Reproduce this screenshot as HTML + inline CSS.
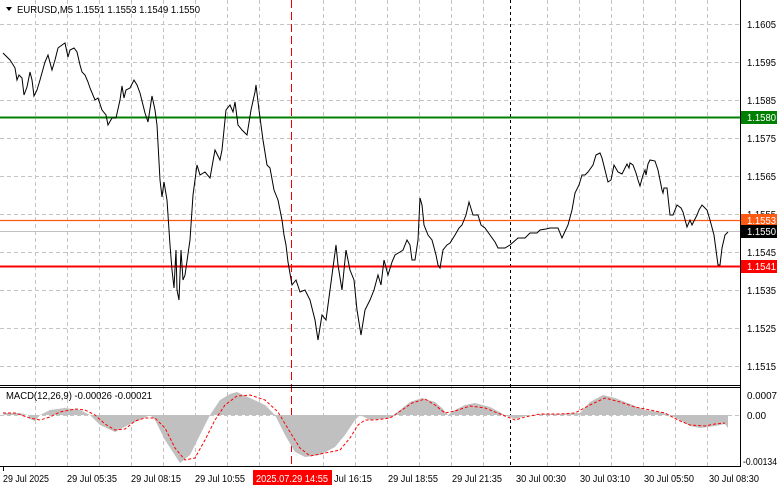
<!DOCTYPE html>
<html><head><meta charset="utf-8"><style>
body{margin:0;background:#fff;}
svg{display:block;font-family:"Liberation Sans",Tahoma,sans-serif;}
</style></head><body>
<svg width="781" height="489" viewBox="0 0 781 489" xmlns="http://www.w3.org/2000/svg">
<rect width="781" height="489" fill="#fff"/>
<g stroke="#c4c4c4" stroke-dasharray="4,3" stroke-width="1">
<line x1="0" y1="24.5" x2="740" y2="24.5"/><line x1="0" y1="62.5" x2="740" y2="62.5"/><line x1="0" y1="100.5" x2="740" y2="100.5"/><line x1="0" y1="138.5" x2="740" y2="138.5"/><line x1="0" y1="176.5" x2="740" y2="176.5"/><line x1="0" y1="214.5" x2="740" y2="214.5"/><line x1="0" y1="252.5" x2="740" y2="252.5"/><line x1="0" y1="290.5" x2="740" y2="290.5"/><line x1="0" y1="328.5" x2="740" y2="328.5"/><line x1="0" y1="366.5" x2="740" y2="366.5"/>
<line x1="0" y1="415.5" x2="740" y2="415.5"/>
<line x1="35.5" y1="0" x2="35.5" y2="466"/><line x1="67.5" y1="0" x2="67.5" y2="466"/><line x1="99.5" y1="0" x2="99.5" y2="466"/><line x1="131.5" y1="0" x2="131.5" y2="466"/><line x1="163.5" y1="0" x2="163.5" y2="466"/><line x1="195.5" y1="0" x2="195.5" y2="466"/><line x1="227.5" y1="0" x2="227.5" y2="466"/><line x1="259.5" y1="0" x2="259.5" y2="466"/><line x1="323.5" y1="0" x2="323.5" y2="466"/><line x1="355.5" y1="0" x2="355.5" y2="466"/><line x1="387.5" y1="0" x2="387.5" y2="466"/><line x1="419.5" y1="0" x2="419.5" y2="466"/><line x1="451.5" y1="0" x2="451.5" y2="466"/><line x1="483.5" y1="0" x2="483.5" y2="466"/><line x1="547.5" y1="0" x2="547.5" y2="466"/><line x1="579.5" y1="0" x2="579.5" y2="466"/><line x1="611.5" y1="0" x2="611.5" y2="466"/><line x1="643.5" y1="0" x2="643.5" y2="466"/><line x1="675.5" y1="0" x2="675.5" y2="466"/><line x1="707.5" y1="0" x2="707.5" y2="466"/>
</g>
<line x1="291.5" y1="0" x2="291.5" y2="466" stroke="#e00" stroke-dasharray="8,4"/>
<line x1="510.5" y1="0" x2="510.5" y2="466" stroke="#000" stroke-dasharray="3,3"/>
<line x1="0" y1="117.5" x2="740" y2="117.5" stroke="#008000" stroke-width="2"/>
<line x1="0" y1="220.5" x2="740" y2="220.5" stroke="#ff5a14" stroke-width="1.2"/>
<line x1="0" y1="231.5" x2="740" y2="231.5" stroke="#c0c0c0"/>
<line x1="0" y1="266.5" x2="740" y2="266.5" stroke="#ff0000" stroke-width="2"/>
<polyline fill="none" stroke="#000" stroke-width="1" points="3,53 10,60 12,63 15,68 17,80 19,75 22,78 24,95 27,87 30,72 32,80 34,96 37,90 40,80 45,62 48,55 52,70 55,60 58,48 62,45 65,43 68,57 70,50 74,48 77,52 80,65 82,72 85,75 88,82 90,88 95,100 98,98 102,110 106,115 108,125 112,118 116,118 120,100 122,86 124,98 126,90 130,88 134,80 137,85 140,93 145,113 148,122 152,96 155,110 157,125 160,180 162,197 164,182 167,200 170,245 172,270 174,288 176,250 177,290 179,300 181,250 183,280 185,275 190,240 193,195 197,165 200,175 205,172 210,178 215,150 220,160 222,150 226,110 230,105 233,112 235,102 238,125 242,130 247,135 251,110 255,92 256,85 259,110 263,140 267,165 270,168 274,190 278,200 282,220 284,235 286,245 288,262 292,285 296,280 300,292 305,290 310,300 315,320 318,340 322,315 326,320 330,290 334,260 336,245 338,265 342,290 346,250 350,270 354,280 357,310 361,335 365,310 370,300 374,290 378,275 381,285 384,260 388,275 392,262 395,255 400,252 403,250 407,240 410,245 412,260 415,260 418,240 420,198 422,205 424,225 428,235 432,240 436,255 438,265 440,268 443,250 447,245 450,243 455,235 459,228 462,225 466,215 469,202 473,215 478,215 481,225 485,228 490,235 495,242 498,248 505,248 510,245 518,238 525,238 530,233 537,233 540,230 546,229 550,228 558,228 562,238 568,225 572,210 575,193 579,185 582,175 585,175 588,172 593,165 596,155 600,153 602,158 605,170 608,182 611,180 614,165 618,172 622,174 625,168 627,164 629,168 630,163 633,165 636,173 638,180 640,186 643,175 645,170 646,175 648,164 650,160 655,161 658,170 660,180 662,190 663,193 664,188 667,188 670,215 673,215 677,205 681,208 683,212 687,227 690,220 692,225 697,215 699,210 702,205 707,210 710,220 714,235 716,250 718,265 720,265 722,248 725,235 728,232"/>
<polygon fill="#c0c0c0" points="3,415 5,413 20,413 28,415 30,419 35,421 40,415 50,410 65,408 80,410 90,415 100,425 115,432 130,424 140,420 150,415 155,420 165,440 180,463 190,455 200,435 210,415 220,400 230,394 237,392 250,398 265,405 275,415 285,435 295,452 305,457 320,455 335,447 345,435 355,420 360,415 370,420 390,418 400,410 410,402 422,398 435,402 442,408 448,415 455,410 465,405 475,403 490,407 505,415 515,419 525,416 540,414 555,414 580,413 590,402 603,395 615,398 630,404 645,410 660,412 670,415 680,420 690,426 700,428 715,426 725,424 728,428 728,415"/>
<polyline fill="none" stroke="#ff0000" stroke-width="1" stroke-dasharray="3,2" points="3,413 15,413 30,418 40,420 50,417 60,412 75,409 85,410 95,415 105,424 115,430 125,429 135,421 145,418 155,418 165,428 175,448 185,460 195,458 205,440 215,420 225,405 237,396 250,395 265,400 278,412 290,432 300,448 310,456 325,453 340,450 350,438 358,425 365,420 375,420 390,418 402,410 412,403 425,399 435,405 445,413 455,411 470,406 485,408 500,414 515,420 525,417 540,414 560,414 575,413 590,405 605,398 620,402 635,407 650,410 665,413 678,420 690,425 705,426 715,424 725,423"/>
<line x1="0" y1="385.5" x2="741" y2="385.5" stroke="#000"/>
<line x1="0" y1="387.5" x2="741" y2="387.5" stroke="#000"/>
<line x1="740.5" y1="0" x2="740.5" y2="467" stroke="#000"/>
<line x1="0" y1="466.5" x2="741" y2="466.5" stroke="#000"/>
<g font-size="10" fill="#000">
<text x="747" y="28" textLength="29" lengthAdjust="spacingAndGlyphs">1.1605</text><text x="747" y="66" textLength="29" lengthAdjust="spacingAndGlyphs">1.1595</text><text x="747" y="104" textLength="29" lengthAdjust="spacingAndGlyphs">1.1585</text><text x="747" y="142" textLength="29" lengthAdjust="spacingAndGlyphs">1.1575</text><text x="747" y="180" textLength="29" lengthAdjust="spacingAndGlyphs">1.1565</text><text x="747" y="256" textLength="29" lengthAdjust="spacingAndGlyphs">1.1545</text><text x="747" y="294" textLength="29" lengthAdjust="spacingAndGlyphs">1.1535</text><text x="747" y="332" textLength="29" lengthAdjust="spacingAndGlyphs">1.1525</text><text x="747" y="370" textLength="29" lengthAdjust="spacingAndGlyphs">1.1515</text>
<text x="747" y="218" textLength="29" lengthAdjust="spacingAndGlyphs">1.1555</text>
</g>
<g font-size="10">
<rect x="741" y="111" width="36" height="13" fill="#008000"/><text x="747" y="121" fill="#fff" textLength="29" lengthAdjust="spacingAndGlyphs">1.1580</text>
<rect x="741" y="214" width="36" height="12" fill="#ff5a14"/><text x="747" y="224" fill="#fff" textLength="29" lengthAdjust="spacingAndGlyphs">1.1553</text>
<rect x="741" y="225" width="36" height="13" fill="#000"/><text x="747" y="235" fill="#fff" textLength="29" lengthAdjust="spacingAndGlyphs">1.1550</text>
<rect x="741" y="260" width="36" height="13" fill="#ff0000"/><text x="747" y="270" fill="#fff" textLength="29" lengthAdjust="spacingAndGlyphs">1.1541</text>
<text x="747" y="399" textLength="30" lengthAdjust="spacingAndGlyphs">0.0007</text><text x="747" y="419" textLength="19" lengthAdjust="spacingAndGlyphs">0.00</text><text x="743" y="465" textLength="34" lengthAdjust="spacingAndGlyphs">-0.00134</text>
</g>
<polygon points="6,7 12,7 9,11" fill="#000"/>
<text x="17" y="13" font-size="10" textLength="183" lengthAdjust="spacingAndGlyphs">EURUSD,M5  1.1551 1.1553 1.1549 1.1550</text>
<text x="6" y="399" font-size="10" textLength="146" lengthAdjust="spacingAndGlyphs">MACD(12,26,9) -0.00026 -0.00021</text>
<g font-size="10" fill="#000">
<line x1="3.5" y1="467" x2="3.5" y2="471" stroke="#000"/>
<text x="3" y="482" textLength="46" lengthAdjust="spacingAndGlyphs">29 Jul 2025</text><text x="67" y="482" textLength="50" lengthAdjust="spacingAndGlyphs">29 Jul 05:35</text><text x="131" y="482" textLength="50" lengthAdjust="spacingAndGlyphs">29 Jul 08:15</text><text x="195" y="482" textLength="50" lengthAdjust="spacingAndGlyphs">29 Jul 10:55</text><text x="334" y="482" textLength="38" lengthAdjust="spacingAndGlyphs">Jul 16:15</text><text x="388" y="482" textLength="50" lengthAdjust="spacingAndGlyphs">29 Jul 18:55</text><text x="452" y="482" textLength="50" lengthAdjust="spacingAndGlyphs">29 Jul 21:35</text><text x="516" y="482" textLength="50" lengthAdjust="spacingAndGlyphs">30 Jul 00:30</text><text x="580" y="482" textLength="50" lengthAdjust="spacingAndGlyphs">30 Jul 03:10</text><text x="644" y="482" textLength="50" lengthAdjust="spacingAndGlyphs">30 Jul 05:50</text><text x="709" y="482" textLength="50" lengthAdjust="spacingAndGlyphs">30 Jul 08:30</text>
</g>
<rect x="253" y="470" width="79" height="15" fill="#ff0000"/>
<text x="256" y="482" font-size="10" fill="#fff" textLength="72" lengthAdjust="spacingAndGlyphs">2025.07.29 14:55</text>
</svg>
</body></html>
